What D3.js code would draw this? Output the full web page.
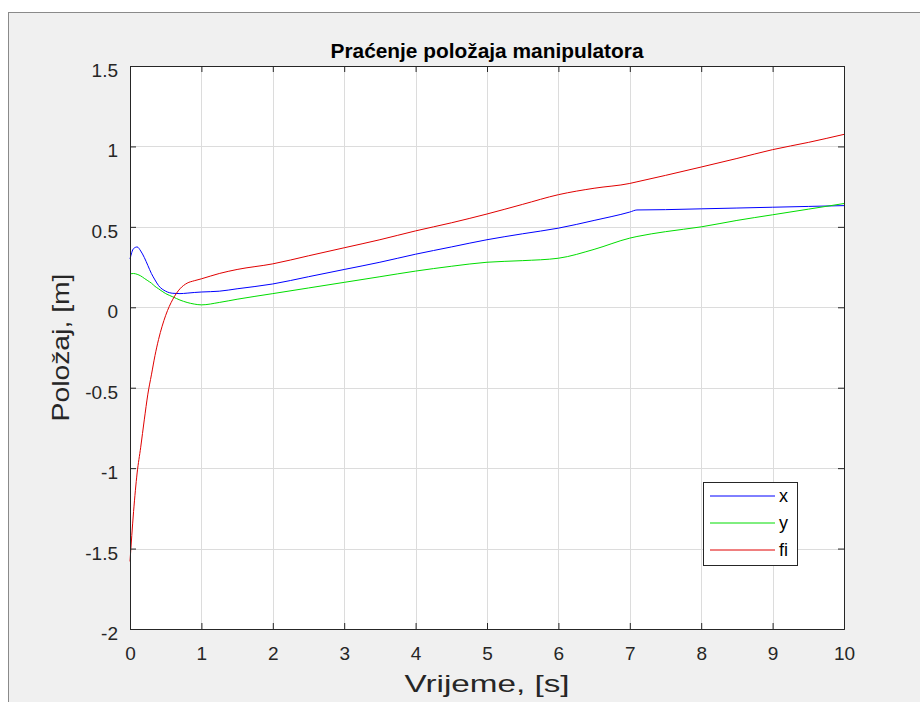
<!DOCTYPE html>
<html><head><meta charset="utf-8">
<script src="https://cdn.jsdelivr.net/npm/d3@7"></script>
<style>body{margin:0;background:#fff;}svg{display:block;}</style>
</head><body>
<script>
const title = "Praćenje položaja manipulatora";
const xLabel = "Vrijeme, [s]";
const yLabel = "Položaj, [m]";
const seriesNames = ["x", "y", "fi"];
const seriesColors = ["#0000ff", "#00dd00", "#e00000"];
const xTicks = [0,1,2,3,4,5,6,7,8,9,10];
const yTicks = [-2,-1.5,-1,-0.5,0,0.5,1,1.5];
const t = [0,0.05,0.1,0.15,0.2,0.25,0.3,0.35,0.4,0.5,0.6,0.7,0.8,0.9,1.0,1.25,1.5,2,2.5,3,3.5,4,4.5,5,5.5,6,6.5,7,7.1,7.5,8,8.5,9,9.5,10];
const xVals = [0.30,0.365,0.375,0.35,0.31,0.26,0.21,0.17,0.135,0.10,0.087,0.085,0.088,0.092,0.095,0.10,0.115,0.145,0.19,0.235,0.28,0.33,0.375,0.42,0.457,0.492,0.54,0.592,0.605,0.607,0.612,0.617,0.622,0.627,0.632];
const yVals = [0.208,0.21,0.205,0.195,0.18,0.165,0.15,0.13,0.115,0.085,0.065,0.045,0.03,0.02,0.015,0.03,0.05,0.085,0.12,0.155,0.19,0.225,0.255,0.28,0.29,0.305,0.36,0.43,0.44,0.47,0.50,0.54,0.575,0.61,0.645];
const fiVals = [-1.58,-1.27,-1.03,-0.87,-0.70,-0.54,-0.42,-0.30,-0.20,-0.05,0.05,0.115,0.15,0.165,0.177,0.21,0.235,0.27,0.32,0.37,0.42,0.475,0.525,0.58,0.64,0.70,0.74,0.77,0.78,0.82,0.872,0.925,0.98,1.025,1.075];
const allSeries = [xVals, yVals, fiVals];

const W = 920, H = 702;
const svg = d3.select("body").append("svg").attr("width", W).attr("height", H);
const font = "'Liberation Sans', Arial, Helvetica, sans-serif";
const ink = "#262626";

// window frame
svg.append("rect").attr("x",0).attr("y",0).attr("width",W).attr("height",H).attr("fill","#fff");
svg.append("rect").attr("x",8).attr("y",12).attr("width",W-8).attr("height",H-12).attr("fill","#f0f0f0");
svg.append("line").attr("x1",8).attr("x2",W).attr("y1",12.5).attr("y2",12.5).attr("stroke","#8a8a8a");
svg.append("line").attr("x1",8.5).attr("x2",8.5).attr("y1",12).attr("y2",H).attr("stroke","#8a8a8a");

const L = 130, R = 844, T = 66, B = 629;
const x = d3.scaleLinear().domain([0,10]).range([L,R]);
const y = d3.scaleLinear().domain([-2,1.5]).range([B,T]);

svg.append("rect").attr("x",L).attr("y",T).attr("width",R-L).attr("height",B-T).attr("fill","#fff");

// grid
const g = svg.append("g");
g.selectAll(".gx").data(xTicks.slice(1,-1)).enter().append("line")
  .attr("x1",d=>Math.round(x(d))+0.5).attr("x2",d=>Math.round(x(d))+0.5).attr("y1",T).attr("y2",B)
  .attr("stroke","#dcdcdc").attr("stroke-width",1);
g.selectAll(".gy").data(yTicks.slice(1,-1)).enter().append("line")
  .attr("y1",d=>Math.round(y(d))+0.5).attr("y2",d=>Math.round(y(d))+0.5).attr("x1",L).attr("x2",R)
  .attr("stroke","#dcdcdc").attr("stroke-width",1);

// lines
const line = d3.line().x((d,i)=>x(t[i])).y(d=>y(d)).curve(d3.curveMonotoneX);
allSeries.forEach((s,k)=>{
  svg.append("path").datum(s).attr("d",line).attr("fill","none")
    .attr("stroke",seriesColors[k]).attr("stroke-width",1);
});

// axes
const axB = d3.axisBottom(x).tickValues(xTicks).tickSize(-6).tickPadding(18).tickFormat(d3.format("d"));
const axT = d3.axisTop(x).tickValues(xTicks).tickSize(-6).tickFormat("");
const axL = d3.axisLeft(y).tickValues(yTicks).tickSize(-6).tickPadding(12).tickFormat(d=>String(d));
const axR = d3.axisRight(y).tickValues(yTicks).tickSize(-6).tickFormat("");
function style(sel){
  sel.selectAll("path,line").attr("stroke",ink).attr("stroke-width",1);
  sel.selectAll("text").attr("fill",ink).attr("font-family",font).attr("font-size",19);
}
svg.append("g").attr("transform",`translate(0,${B})`).call(axB).call(style);
svg.append("g").attr("transform",`translate(0,${T})`).call(axT).call(style);
const gl = svg.append("g").attr("transform",`translate(${L},0)`).call(axL).call(style);
gl.selectAll("text").attr("dy","0.55em");
svg.append("g").attr("transform",`translate(${R},0)`).call(axR).call(style);

// title and labels
svg.append("text").attr("x",(L+R)/2).attr("y",58).attr("text-anchor","middle")
  .attr("font-family",font).attr("font-weight","bold").attr("font-size",20).attr("fill","#000")
  .attr("textLength",313).attr("lengthAdjust","spacingAndGlyphs")
  .text(title);
svg.append("text").attr("x",(L+R)/2).attr("y",692).attr("text-anchor","middle")
  .attr("font-family",font).attr("font-size",24).attr("fill",ink)
  .attr("textLength",165).attr("lengthAdjust","spacingAndGlyphs").text(xLabel);
svg.append("text").attr("transform",`translate(69,${(T+B)/2}) rotate(-90)`).attr("text-anchor","middle")
  .attr("font-family",font).attr("font-size",24).attr("fill",ink)
  .attr("textLength",148).attr("lengthAdjust","spacingAndGlyphs").text(yLabel);

// legend
const lg = svg.append("g");
lg.append("rect").attr("x",703.5).attr("y",482.5).attr("width",94).attr("height",83)
  .attr("fill","#fff").attr("stroke",ink).attr("stroke-width",1);
seriesNames.forEach((n,k)=>{
  const yy = 496 + k*27;
  lg.append("line").attr("x1",710).attr("x2",775).attr("y1",yy).attr("y2",yy)
    .attr("stroke",seriesColors[k]).attr("stroke-width",1);
  lg.append("text").attr("x",779).attr("y",yy+6).attr("font-family",font).attr("font-size",18)
    .attr("fill","#000").text(n);
});
</script>
</body></html>
